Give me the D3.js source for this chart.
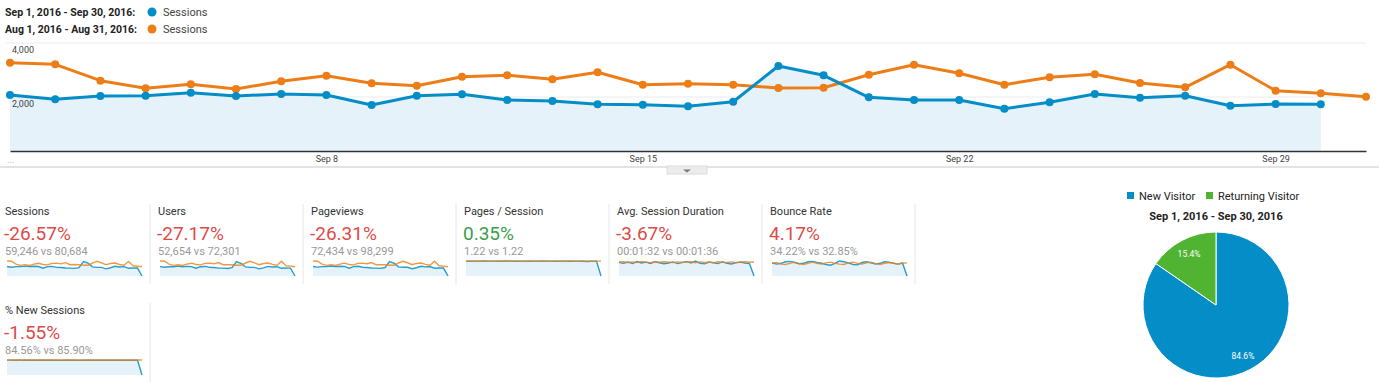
<!DOCTYPE html>
<html>
<head>
<meta charset="utf-8">
<script src="https://cdnjs.cloudflare.com/ajax/libs/d3/7.8.5/d3.min.js"></script>
<style>
  body { margin: 0; background: #fff; }
  svg { display: block; font-family: Roboto, "Noto Sans", sans-serif; }
</style>
</head>
<body>
<div id="chart"></div>
<script>
// main chart: daily sessions
var curLabel = "Sep 1, 2016 - Sep 30, 2016:";
var prevLabel = "Aug 1, 2016 - Aug 31, 2016:";
var seriesName = "Sessions";

var sessionsCur = [2074, 1915, 2037, 2048, 2159, 2037, 2111, 2074, 1704, 2048,
                   2100, 1889, 1852, 1730, 1715, 1656, 1826, 3148, 2804, 1989,
                   1889, 1889, 1567, 1804, 2111, 1974, 2048, 1678, 1741, 1730];
var sessionsPrev = [3271, 3211, 2604, 2322, 2470, 2296, 2582, 2789, 2508, 2419,
                    2752, 2804, 2656, 2915, 2456, 2493, 2456, 2334, 2345, 2826,
                    3197, 2878, 2456, 2730, 2841, 2519, 2359, 3197, 2234, 2137, 2011];

var yTicks = [2000, 4000];
var xTickIdx = [7, 14, 21, 28];
var xTickLabels = ["Sep 8", "Sep 15", "Sep 22", "Sep 29"];

// scorecards
var metricNames = ["Sessions", "Users", "Pageviews", "Pages / Session", "Avg. Session Duration", "Bounce Rate", "% New Sessions"];
var metricChange = ["-26.57%", "-27.17%", "-26.31%", "0.35%", "-3.67%", "4.17%", "-1.55%"];
var metricGood = [false, false, false, true, false, false, false];
var metricCompare = ["59,246 vs 80,684", "52,654 vs 72,301", "72,434 vs 98,299", "1.22 vs 1.22",
                     "00:01:32 vs 00:01:36", "34.22% vs 32.85%", "84.56% vs 85.90%"];

var sparkSessionsCur = sessionsCur.concat([0]);
var sparkSessionsPrev = sessionsPrev;
var sparkUsersCur = [1840, 1710, 1820, 1820, 1920, 1810, 1880, 1840, 1510, 1820, 1870, 1680, 1650, 1540, 1530,
                     1480, 1630, 2800, 2490, 1770, 1680, 1680, 1400, 1600, 1880, 1750, 1820, 1500, 1550, 1540, 0];
var sparkUsersPrev = [2930, 2880, 2330, 2080, 2210, 2060, 2310, 2500, 2250, 2170, 2460, 2510, 2380, 2620, 2200,
                      2230, 2200, 2090, 2110, 2540, 2870, 2580, 2200, 2450, 2540, 2260, 2110, 2870, 2000, 1920, 1800];
var sparkPageviewsCur = [2530, 2350, 2490, 2500, 2640, 2490, 2580, 2530, 2080, 2500, 2570, 2310, 2260, 2110, 2100,
                         2030, 2240, 3850, 3420, 2430, 2310, 2310, 1920, 2200, 2580, 2410, 2500, 2050, 2130, 2110, 0];
var sparkPageviewsPrev = [3980, 3910, 3170, 2830, 3010, 2800, 3140, 3400, 3060, 2950, 3350, 3410, 3240, 3560, 3000,
                          3030, 3000, 2840, 2860, 3450, 3900, 3510, 3000, 3330, 3460, 3070, 2870, 3900, 2720, 2610, 2450];
var sparkPpsCur = [1.22, 1.21, 1.22, 1.22, 1.23, 1.22, 1.22, 1.21, 1.22, 1.23, 1.22, 1.21, 1.22, 1.22, 1.21,
                   1.22, 1.22, 1.23, 1.22, 1.22, 1.21, 1.22, 1.22, 1.21, 1.22, 1.22, 1.21, 1.19, 1.22, 1.22, 0];
var sparkPpsPrev = [1.22, 1.22, 1.22, 1.21, 1.22, 1.22, 1.22, 1.22, 1.21, 1.22, 1.22, 1.22, 1.22, 1.22, 1.22,
                    1.21, 1.22, 1.22, 1.22, 1.22, 1.22, 1.22, 1.21, 1.22, 1.22, 1.22, 1.22, 1.22, 1.22, 1.22, 1.22];
var sparkDurCur = [95, 88, 97, 86, 100, 90, 96, 87, 99, 92, 85, 90, 98, 86, 93,
                   101, 90, 104, 88, 84, 96, 92, 86, 99, 88, 83, 93, 97, 90, 86, 0];
var sparkDurPrev = [97, 99, 94, 98, 93, 100, 96, 92, 98, 95, 99, 96, 93, 98, 95,
                    96, 99, 92, 98, 94, 97, 93, 99, 96, 94, 98, 92, 96, 99, 95, 97];
var sparkBounceCur = [34, 31, 33, 37, 38, 35, 32, 33, 37, 38, 35, 33, 30, 28, 33,
                      39, 37, 34, 30, 29, 35, 37, 34, 31, 33, 37, 36, 33, 31, 34, 0];
var sparkBouncePrev = [33, 35, 31, 30, 33, 36, 32, 30, 33, 36, 33, 31, 34, 36, 33,
                       31, 30, 34, 36, 33, 31, 34, 36, 33, 30, 33, 35, 33, 31, 33, 34];
var sparkNewCur = [85.1, 85.3, 84.9, 85.0, 84.8, 84.6, 84.7, 84.9, 84.5, 84.3, 84.6, 84.2, 84.0, 84.4, 84.3,
                   84.5, 84.1, 84.6, 84.8, 84.4, 84.7, 84.6, 84.3, 84.5, 84.7, 84.2, 84.4, 84.6, 84.3, 84.5, 0];
var sparkNewPrev = [85.9, 85.9, 85.8, 85.9, 86.0, 85.9, 85.8, 85.9, 85.9, 86.0, 85.9, 85.9, 85.8, 85.9, 85.9,
                    85.9, 86.0, 85.9, 85.9, 85.8, 85.9, 85.9, 85.9, 86.0, 85.9, 85.9, 85.8, 85.9, 85.9, 85.9, 85.9];

var sparkCur = [sparkSessionsCur, sparkUsersCur, sparkPageviewsCur, sparkPpsCur, sparkDurCur, sparkBounceCur, sparkNewCur];
var sparkPrev = [sparkSessionsPrev, sparkUsersPrev, sparkPageviewsPrev, sparkPpsPrev, sparkDurPrev, sparkBouncePrev, sparkNewPrev];

// pie
var pieLabels = ["New Visitor", "Returning Visitor"];
var pieValues = [84.6, 15.4];
var pieTitle = "Sep 1, 2016 - Sep 30, 2016";

var blue = "#058dc7", orange = "#ed7e17", green = "#50b432", fillBlue = "#e5f2f9";

var svg = d3.select("#chart").append("svg")
  .attr("width", 1379)
  .attr("height", 382);

// legend
[[curLabel, blue, 16], [prevLabel, orange, 33]].forEach(function(r) {
  svg.append("text").attr("x", 5).attr("y", r[2])
    .attr("font-size", 10.5).attr("font-weight", "bold").attr("fill", "#222").text(r[0]);
  svg.append("circle").attr("cx", 152).attr("cy", r[2] - 4).attr("r", 4.5).style("fill", r[1]);
  svg.append("text").attr("x", 163).attr("y", r[2])
    .attr("font-size", 11).attr("fill", "#444").text(seriesName);
});

var x = d3.scaleLinear().domain([0, 30]).range([10, 1366]);
var y = d3.scaleLinear().domain([0, 4000]).range([151, 43]);

// grid
svg.selectAll(".grid").data(yTicks).enter().append("line")
  .attr("x1", 5).attr("x2", 1366)
  .attr("y1", function(d) { return y(d); }).attr("y2", function(d) { return y(d); })
  .style("stroke", "#ebebeb").style("stroke-width", 1);

// blue area
svg.append("path").datum(sessionsCur)
  .attr("d", d3.area().x(function(d, i) { return x(i); }).y0(y(0)).y1(function(d) { return y(d); }))
  .style("fill", fillBlue);

svg.selectAll(".ylab").data(yTicks).enter().append("text")
  .attr("x", 12).attr("y", function(d) { return y(d) + 9.5; })
  .attr("font-size", 9).attr("fill", "#444")
  .text(d3.format(","));

// x axis
var xAxis = d3.axisBottom(x).tickValues(xTickIdx).tickSize(0).tickPadding(5)
  .tickFormat(function(d, i) { return xTickLabels[i]; });
var gx = svg.append("g").attr("transform", "translate(0," + y(0) + ")").call(xAxis);
gx.select(".domain").style("stroke", "#333").style("stroke-width", 1.3);
gx.selectAll("text").attr("font-size", 9).attr("fill", "#444").attr("font-family", "Roboto, sans-serif");
svg.append("text").attr("x", 7).attr("y", 163).attr("font-size", 9).attr("fill", "#999").text("...");

// lines
var line = d3.line().x(function(d, i) { return x(i); }).y(function(d) { return y(d); });
[[sessionsPrev, orange], [sessionsCur, blue]].forEach(function(s) {
  svg.append("path").datum(s[0]).attr("d", line)
    .style("fill", "none").style("stroke", s[1]).style("stroke-width", 3).style("stroke-linejoin", "round");
  svg.append("g").selectAll("circle").data(s[0]).enter().append("circle")
    .attr("cx", function(d, i) { return x(i); })
    .attr("cy", function(d) { return y(d); })
    .attr("r", 4).style("fill", s[1]);
});

// bottom strip + toggle
svg.append("line").attr("x1", 0).attr("x2", 1379).attr("y1", 167).attr("y2", 167)
  .style("stroke", "#e3e3e3").style("stroke-width", 2);
svg.append("rect").attr("x", 667).attr("y", 166).attr("width", 40).attr("height", 8)
  .style("fill", "#ececec").style("stroke", "#dcdcdc");
svg.append("path").attr("d", "M683,169.5 L691,169.5 L687,172.5 Z").style("fill", "#777");

// scorecards
metricNames.forEach(function(name, i) {
  var col = i % 6, row = Math.floor(i / 6);
  var x0 = col * 153, y0 = row * 99;
  var g = svg.append("g").attr("transform", "translate(" + x0 + "," + y0 + ")");
  g.append("line").attr("x1", 150).attr("x2", 150).attr("y1", 204).attr("y2", 284)
    .style("stroke", "#e6e6e6");
  g.append("text").attr("x", 5).attr("y", 215).attr("font-size", 11).attr("fill", "#333").text(name);
  g.append("text").attr("x", 4).attr("y", 240).attr("font-size", 19)
    .attr("fill", metricGood[i] ? "#3a9e4a" : "#dd4b48").text(metricChange[i]);
  g.append("text").attr("x", 5).attr("y", 254.5).attr("font-size", 11).attr("fill", "#999").text(metricCompare[i]);

  var cur = sparkCur[i], prev = sparkPrev[i];
  var sx = d3.scaleLinear().domain([0, 30]).range([7, 142]);
  var sy = d3.scaleLinear().domain([0, d3.max(cur.concat(prev))]).range([276, 261]);
  var sline = d3.line().x(function(d, j) { return sx(j); }).y(function(d) { return sy(d); });
  g.append("path").datum(cur)
    .attr("d", d3.area().x(function(d, j) { return sx(j); }).y0(sy(0)).y1(function(d) { return sy(d); }))
    .style("fill", fillBlue);
  g.append("path").datum(cur).attr("d", sline)
    .style("fill", "none").style("stroke", blue).style("stroke-width", 1.4).style("opacity", 0.85);
  g.append("path").datum(prev).attr("d", sline)
    .style("fill", "none").style("stroke", orange).style("stroke-width", 1.4).style("opacity", 0.8);
});

// pie legend
var pieColors = [blue, green];
var legX = [1127, 1206];
pieLabels.forEach(function(l, i) {
  svg.append("rect").attr("x", legX[i]).attr("y", 192).attr("width", 7).attr("height", 7).style("fill", pieColors[i]);
  svg.append("text").attr("x", legX[i] + 12).attr("y", 199.5).attr("font-size", 11).attr("fill", "#222").text(l);
});
svg.append("text").attr("x", 1216).attr("y", 219.5).attr("text-anchor", "middle")
  .attr("font-size", 11).attr("font-weight", "bold").attr("fill", "#222").text(pieTitle);

var pie = d3.pie().sort(null)(pieValues);
var arc = d3.arc().innerRadius(0).outerRadius(73);
var labelArc = d3.arc().innerRadius(58).outerRadius(58);
var pg = svg.append("g").attr("transform", "translate(1216,305)");
pg.selectAll("path").data(pie).enter().append("path")
  .attr("d", arc)
  .style("fill", function(d, i) { return pieColors[i]; })
  .style("stroke", "#fff").style("stroke-width", 1);
pg.selectAll("text").data(pie).enter().append("text")
  .attr("transform", function(d) { return "translate(" + labelArc.centroid(d) + ")"; })
  .attr("text-anchor", "middle").attr("dy", "0.35em")
  .attr("font-size", 8.5).attr("fill", "#fff")
  .text(function(d) { return d.data.toFixed(1) + "%"; });
</script>
</body>
</html>
